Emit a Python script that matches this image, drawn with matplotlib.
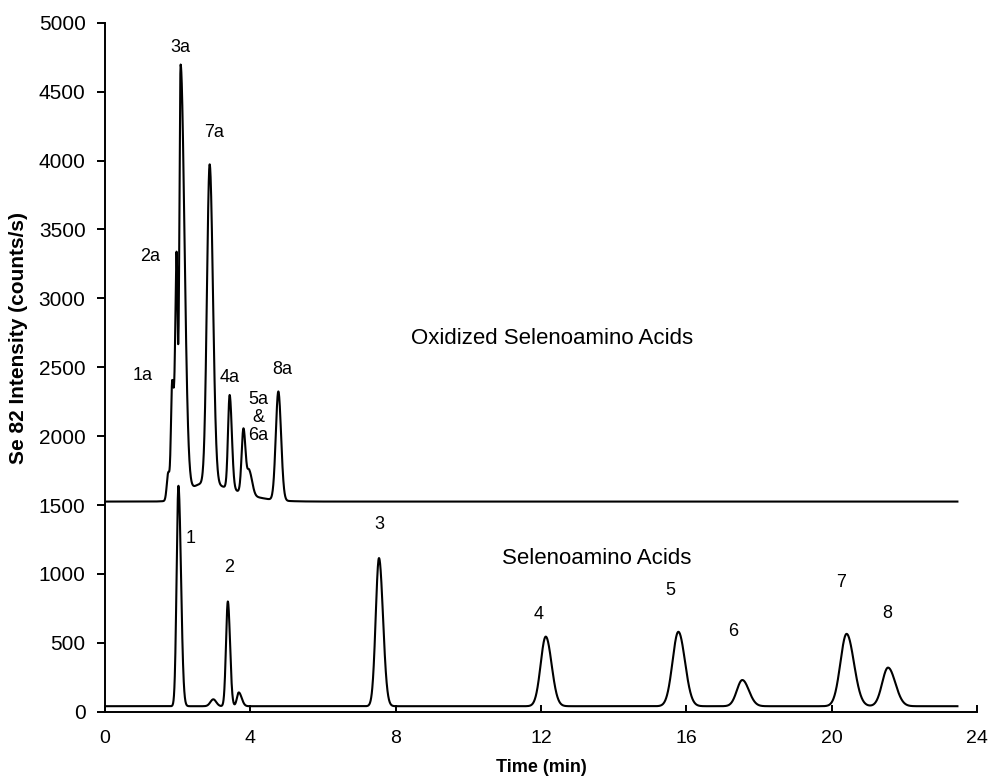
import numpy as np
import matplotlib
matplotlib.use('Agg')
from matplotlib import pyplot as plt

plt.rcParams['font.family'] = ['Liberation Sans', 'DejaVu Sans']

# oxidized selenoamino acids (upper trace), peaks
ox_base = 1525
ox_time = [1.74, 1.85, 1.97, 2.08, 2.70, 2.88, 3.43, 3.81, 3.97, 4.77]
ox_height = [200, 860, 1650, 3130, 130, 2320, 680, 470, 170, 790]
ox_sig_l = [0.04, 0.035, 0.035, 0.035, 0.40, 0.075, 0.045, 0.05, 0.05, 0.07]
ox_sig_r = [0.04, 0.06, 0.03, 0.105, 0.90, 0.09, 0.06, 0.06, 0.08, 0.075]

# selenoamino acids (lower trace)
sa_base = 40
sa_time = [2.02, 2.98, 3.38, 3.68, 7.54, 12.13, 15.78, 17.54, 20.41, 21.55]
sa_height = [1600, 50, 760, 100, 1075, 505, 540, 190, 525, 280]
sa_sig_l = [0.05, 0.08, 0.05, 0.05, 0.09, 0.14, 0.16, 0.15, 0.17, 0.16]
sa_sig_r = [0.07, 0.08, 0.06, 0.08, 0.11, 0.16, 0.18, 0.18, 0.20, 0.20]

t_end = 23.46

# peak labels
ox_labels = ['1a', '2a', '3a', '7a', '4a', '5a\n&\n6a', '8a']
ox_lab_x = [1.03, 1.24, 2.07, 3.01, 3.44, 4.22, 4.89]
ox_lab_y = [2443, 3307, 4823, 4200, 2427, 2136, 2485]
sa_labels = ['1', '2', '3', '4', '5', '6', '7', '8']
sa_lab_x = [2.36, 3.42, 7.54, 11.94, 15.55, 17.29, 20.25, 21.53]
sa_lab_y = [1258, 1048, 1355, 707, 883, 580, 936, 714]


def trace(t, base, centers, heights, sl, sr):
    y = np.full_like(t, float(base))
    for c, h, a, b in zip(centers, heights, sl, sr):
        s = np.where(t < c, a, b)
        y += h * np.exp(-0.5 * ((t - c) / s) ** 2)
    return y


t = np.linspace(0, t_end, 6000)
y_ox = trace(t, ox_base, ox_time, ox_height, ox_sig_l, ox_sig_r)
y_sa = trace(t, sa_base, sa_time, sa_height, sa_sig_l, sa_sig_r)

fig = plt.figure(figsize=(9.89, 7.78), dpi=100)
ax = fig.add_axes([0.1062, 0.0852, 0.8817, 0.8856])

ax.plot(t, y_ox, color='black', lw=1.5)
ax.plot(t, y_sa, color='black', lw=1.5)

for lab, x, y in zip(ox_labels, ox_lab_x, ox_lab_y):
    ax.text(x, y, lab, ha='center', va='center', fontsize=13, linespacing=1.05)
for lab, x, y in zip(sa_labels, sa_lab_x, sa_lab_y):
    ax.text(x, y, lab, ha='center', va='center', fontsize=13)

ax.text(12.29, 2711, 'Oxidized Selenoamino Acids', ha='center', va='center', fontsize=16)
ax.text(13.52, 1113, 'Selenoamino Acids', ha='center', va='center', fontsize=16)

ax.set_xlim(0, 24)
ax.set_ylim(0, 5000)
ax.set_xticks(np.arange(0, 25, 4))
ax.set_yticks(np.arange(0, 5001, 500))
ax.spines['top'].set_visible(False)
ax.spines['right'].set_visible(False)
for s in ['left', 'bottom']:
    ax.spines[s].set_linewidth(1.4)
ax.tick_params(axis='y', direction='out', length=6, width=1.4, labelsize=15, pad=8)
ax.tick_params(axis='x', direction='in', length=5, width=1.4, labelsize=14, pad=13)

ax.set_xlabel('Time (min)', fontsize=13, fontweight='bold', labelpad=9)
ax.set_ylabel('Se 82 Intensity (counts/s)', fontsize=15, fontweight='bold')
ax.yaxis.set_label_coords(-0.0883, 0.543)

fig.savefig('out.png', dpi=100)
